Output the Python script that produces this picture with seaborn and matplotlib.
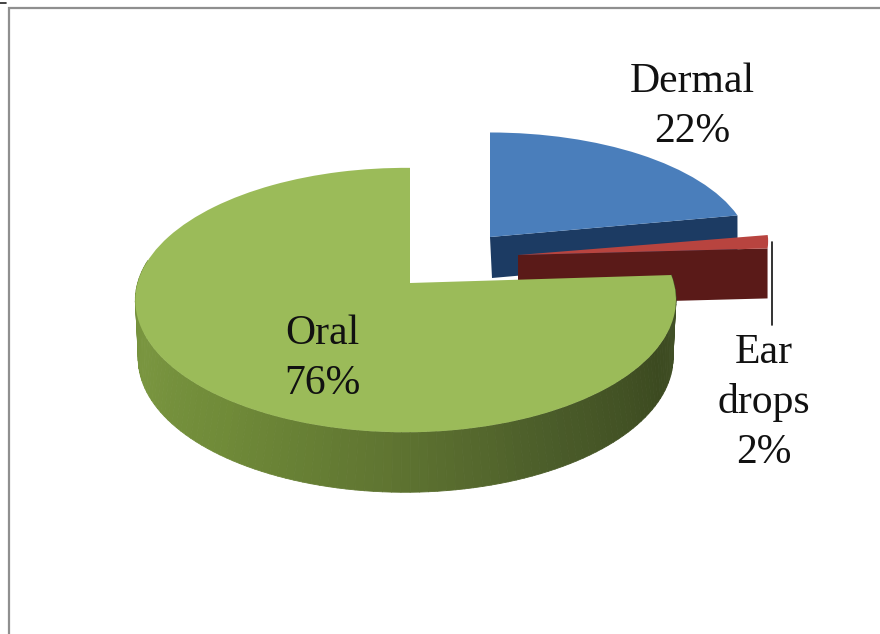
import numpy as np
import seaborn as sns
import matplotlib
matplotlib.use("Agg")
import matplotlib.pyplot as plt
from matplotlib.collections import PolyCollection
from matplotlib.transforms import Transform

categories = ["Oral", "Ear drops", "Dermal"]
shares = [76, 2, 22]
top_colors = ["#9bbb59", "#b8443f", "#4a7ebb"]
wall_colors = ["#5f7531", "#5a1a18", "#1c3b63"]
oral_wall_stops = ["#6c8836", "#7a9640", "#6f8a38", "#5f7431", "#4a5b29", "#3c4a20", "#44532a"]
label_lines = [["Oral", "76%"], ["Ear", "drops", "2%"], ["Dermal", "22%"]]


class DiskProjection(Transform):
    """Perspective map of the unit disk onto a tilted plane, in pixel units."""
    input_dims = 2
    output_dims = 2

    def __init__(self, apex, a, b, k, m=0.0):
        super().__init__()
        self.apex, self.a, self.b, self.k, self.m = apex, a, b, k, m

    def transform_non_affine(self, values):
        values = np.asarray(values, dtype=float)
        u, v = values[:, 0], values[:, 1]
        w = 1 + self.k * v + self.m * u
        return np.column_stack([self.apex[0] + self.a * u / w,
                                self.apex[1] - self.b * v / w])


def rim(projection, degrees):
    t = np.radians(degrees)
    return projection.transform_non_affine(np.column_stack([np.cos(t), np.sin(t)]))


sns.set_theme(style="white")
plt.rcParams["font.family"] = ["Liberation Serif", "DejaVu Serif"]

fig, ax = plt.subplots(figsize=(8.8, 6.34), dpi=100)
fig.subplots_adjust(0, 0, 1, 1)

wedges, _ = ax.pie(shares, colors=top_colors, startangle=90, counterclock=True,
                   wedgeprops={"linewidth": 0})
ax.set_aspect("auto")
ax.set_xlim(0, 880)
ax.set_ylim(634, 0)
ax.axis("off")

# Each slice sits on its own exploded top and bottom plane.
planes = {
    "Oral": (DiskProjection((410, 283), 268, 130, 0.129, 0.016),
             DiskProjection((410, 331), 262, 129, 0.2, 0.016)),
    "Ear drops": (DiskProjection((518, 255), 248, 104, -0.13),
                  DiskProjection((518, 305), 248, 104, -0.13)),
    "Dermal": (DiskProjection((490, 237), 258, 118, 0.129),
               DiskProjection((492, 278), 256, 118, 0.129)),
}
layers = {"Dermal": 1, "Ear drops": 3, "Oral": 5}

for name, wedge, wall in zip(categories, wedges, wall_colors):
    top, bottom = planes[name]
    wedge.set_transform(top + ax.transData)
    wedge.set_zorder(layers[name] + 1)
    if name == "Oral":
        # Curved outer wall, shaded in narrow strips from left to right.
        angles = np.linspace(170, wedge.theta2, 121)
        upper, lower = rim(top, angles), rim(bottom, angles)
        strips = [[upper[i], upper[i + 1], lower[i + 1], lower[i]]
                  for i in range(len(angles) - 1)]
        shades = sns.blend_palette(oral_wall_stops, n_colors=len(strips))
        ax.add_collection(PolyCollection(strips, facecolors=shades, edgecolors=shades,
                                         linewidths=0.6, zorder=layers[name]))
    else:
        # Flat cut face seen from the front.
        near_top = rim(top, np.array([wedge.theta1]))[0]
        near_bottom = rim(bottom, np.array([wedge.theta1]))[0]
        face = np.array([top.apex, near_top, near_bottom, bottom.apex])
        ax.fill(face[:, 0], face[:, 1], color=wall, linewidth=0, zorder=layers[name])

# Leader line from the small slice to its label.
ax.plot([771.5, 771.5], [242, 325], color="#111111", lw=1.2, zorder=7)

# Outer chart frame and the short tick at the corner.
ax.plot([9, 9, 880], [634, 8, 8], color="#8f8f8f", lw=1.6, zorder=0,
        solid_joinstyle="miter", clip_on=True)
ax.plot([0, 6], [3, 3], color="#222222", lw=1.2, zorder=0)

label_anchors = {"Oral": (322, 334), "Ear drops": (764, 353), "Dermal": (692, 82)}
for name, lines in zip(categories, label_lines):
    x, y = label_anchors[name]
    for i, line in enumerate(lines):
        ax.text(x, y + i * 50, line, ha="center", va="center", fontsize=30,
                color="#111111", zorder=8)

fig.savefig("out.png", dpi=100)
